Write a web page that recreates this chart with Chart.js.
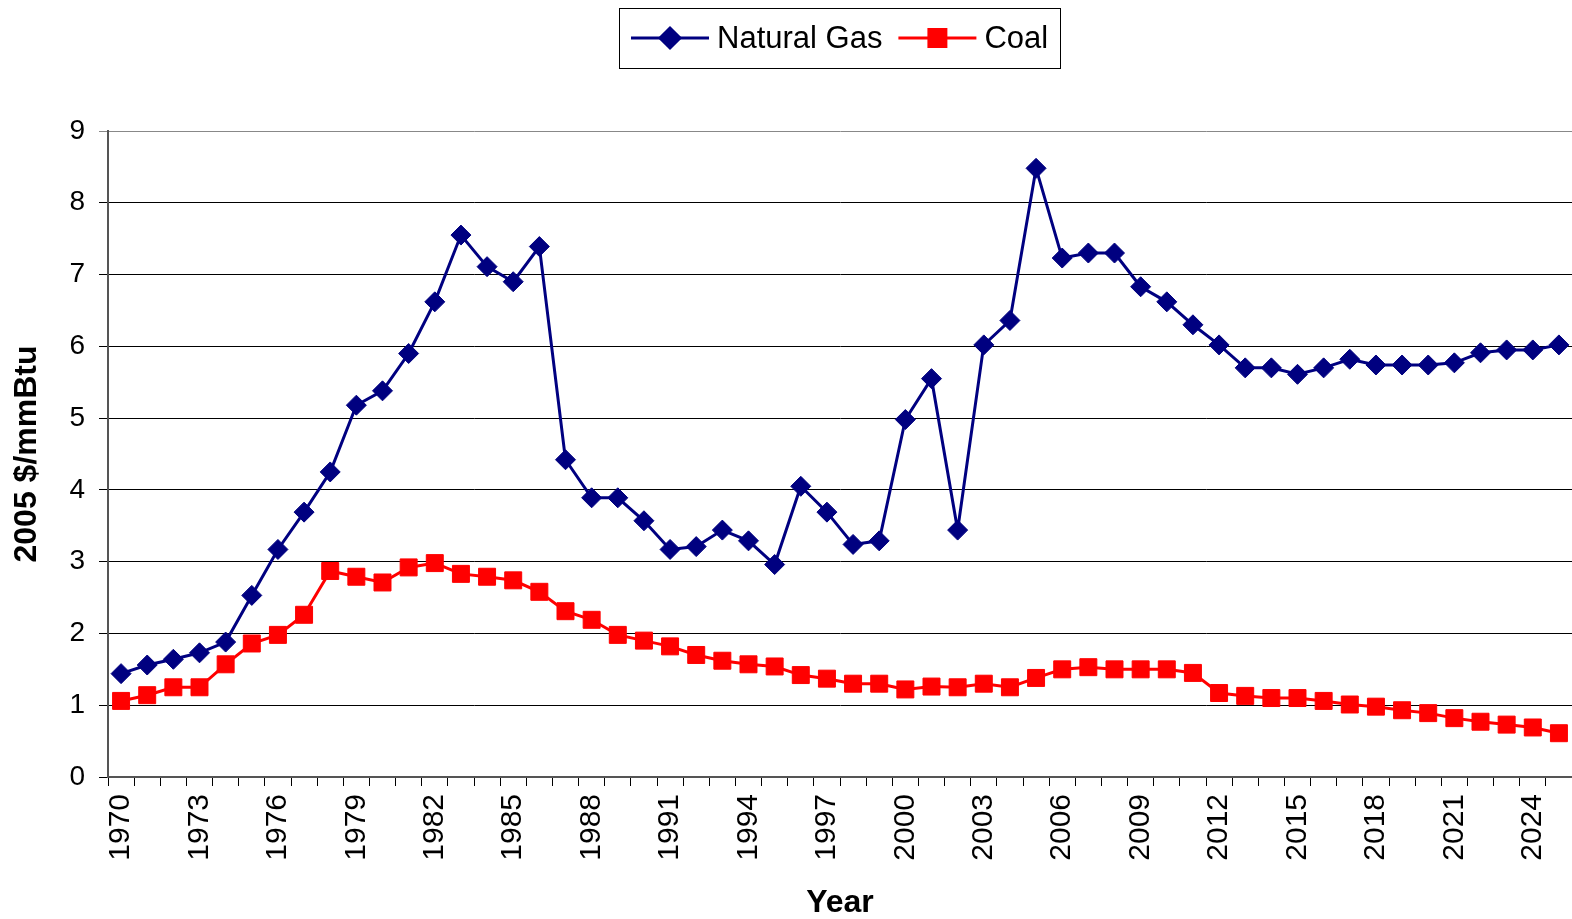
<!DOCTYPE html>
<html>
<head>
<meta charset="utf-8">
<title>Natural Gas vs Coal prices</title>
<script src="https://cdn.jsdelivr.net/npm/chart.js@4.4.1/dist/chart.umd.min.js"></script>
<style>
  html, body { margin:0; padding:0; background:#fff; }
  #wrap { width:1572px; height:919px; }
</style>
</head>
<body>
<div id="wrap"><canvas id="priceChart" width="1572" height="919"></canvas></div>
<script>
const years = [1970,1971,1972,1973,1974,1975,1976,1977,1978,1979,
  1980,1981,1982,1983,1984,1985,1986,1987,1988,1989,
  1990,1991,1992,1993,1994,1995,1996,1997,1998,1999,
  2000,2001,2002,2003,2004,2005,2006,2007,2008,2009,
  2010,2011,2012,2013,2014,2015,2016,2017,2018,2019,
  2020,2021,2022,2023,2024,2025];

const naturalGas = [1.44,1.56,1.64,1.73,1.88,2.53,3.17,3.69,4.25,5.18,
  5.38,5.90,6.62,7.55,7.11,6.90,7.39,4.42,3.89,3.89,
  3.57,3.17,3.21,3.44,3.29,2.96,4.05,3.69,3.24,3.29,
  4.98,5.55,3.44,6.02,6.36,8.48,7.23,7.30,7.30,6.83,
  6.62,6.30,6.02,5.70,5.70,5.61,5.70,5.82,5.74,5.74,
  5.74,5.77,5.91,5.95,5.95,6.02];

const coal = [1.06,1.14,1.25,1.25,1.57,1.86,1.98,2.26,2.87,2.79,
  2.71,2.92,2.98,2.83,2.79,2.74,2.58,2.31,2.19,1.98,
  1.90,1.82,1.70,1.62,1.57,1.54,1.42,1.37,1.30,1.30,
  1.22,1.26,1.25,1.30,1.25,1.38,1.50,1.53,1.50,1.50,
  1.50,1.45,1.17,1.13,1.10,1.10,1.06,1.01,0.98,0.93,
  0.89,0.82,0.77,0.73,0.69,0.61];

const yTicks = [0,1,2,3,4,5,6,7,8,9];

const FONT = "'Liberation Sans', Arial, sans-serif";
const GAS_COLOR = '#000080';
const COAL_COLOR = '#ff0000';

// legend drawn by hand: line + marker + label, inside a thin box
const boxLegend = {
  id: 'boxLegend',
  afterDraw(chart) {
    const ctx = chart.ctx;
    const items = chart.data.datasets.map(d => ({ text: d.label, color: d.borderColor, style: d.pointStyle, r: d.pointRadius }));
    ctx.save();
    ctx.font = '31px ' + FONT;
    const lineW = 78, gapText = 8, gapItem = 16, padX = 12;
    let total = padX * 2;
    items.forEach((it, i) => {
      it.w = ctx.measureText(it.text).width;
      total += lineW + gapText + it.w + (i ? gapItem : 0);
    });
    const area = chart.chartArea;
    const cx = (area.left + area.right) / 2;
    let x = Math.round(cx - total / 2);
    const top = 8, h = 60, cy = top + h / 2;
    ctx.strokeStyle = '#000';
    ctx.lineWidth = 1;
    ctx.strokeRect(x + 0.5, top + 0.5, Math.round(total), h);
    x += padX;
    items.forEach((it, i) => {
      if (i) x += gapItem;
      ctx.strokeStyle = it.color;
      ctx.lineWidth = 3;
      ctx.beginPath();
      ctx.moveTo(x, cy);
      ctx.lineTo(x + lineW, cy);
      ctx.stroke();
      ctx.fillStyle = it.color;
      Chart.helpers.drawPoint(ctx, { pointStyle: it.style, radius: it.r, rotation: 0, borderWidth: 1 }, x + lineW / 2, cy);
      x += lineW + gapText;
      ctx.fillStyle = '#000';
      ctx.textBaseline = 'middle';
      ctx.textAlign = 'left';
      ctx.fillText(it.text, x, cy + 1);
      x += it.w;
    });
    ctx.restore();
  }
};

new Chart(document.getElementById('priceChart'), {
  type: 'line',
  data: {
    labels: years,
    datasets: [
      { label: 'Natural Gas', data: naturalGas, borderColor: GAS_COLOR, backgroundColor: GAS_COLOR,
        borderWidth: 3, pointStyle: 'rectRot', pointRadius: 10, pointBorderWidth: 1, tension: 0, clip: false },
      { label: 'Coal', data: coal, borderColor: COAL_COLOR, backgroundColor: COAL_COLOR,
        borderWidth: 3, pointStyle: 'rect', pointRadius: 12, pointBorderWidth: 1, tension: 0, clip: false }
    ]
  },
  options: {
    responsive: false,
    animation: false,
    layout: { autoPadding: false, padding: { top: 131, right: -2, bottom: 0, left: 0 } },
    plugins: { legend: { display: false }, tooltip: { enabled: false } },
    scales: {
      x: {
        type: 'category',
        offset: true,
        grid: { display: true, drawOnChartArea: false, offset: true, color: '#000', tickLength: 9 },
        border: { color: '#555', width: 2 },
        ticks: {
          autoSkip: false, maxRotation: 90, minRotation: 90, padding: 8,
          color: '#000', font: { family: FONT, size: 30 },
          callback: (v, i) => (i % 3 === 0 ? years[i] : '')
        },
        title: { display: true, text: 'Year', color: '#000', font: { family: FONT, size: 32, weight: 'bold', lineHeight: 1.0 }, padding: { top: 0, bottom: 0 } },
        afterFit: s => { s.height = 142; s.paddingLeft = 0; s.paddingRight = 0; }
      },
      y: {
        min: 0, max: 9,
        afterBuildTicks: s => { s.ticks = yTicks.map(v => ({ value: v })); },
        grid: { color: ctx => (ctx.tick && ctx.tick.value === 9 ? '#888' : '#000'), lineWidth: 1, tickLength: 9 },
        border: { color: '#555', width: 2 },
        ticks: { padding: 14, color: '#000', font: { family: FONT, size: 28 } },
        title: { display: true, text: '2005 $/mmBtu', color: '#000', font: { family: FONT, size: 32, weight: 'bold' }, padding: { top: 8, bottom: 0 } },
        afterFit: s => { s.width = 108; s.paddingTop = 0; s.paddingBottom = 0; }
      }
    }
  },
  plugins: [boxLegend]
});
</script>
</body>
</html>
